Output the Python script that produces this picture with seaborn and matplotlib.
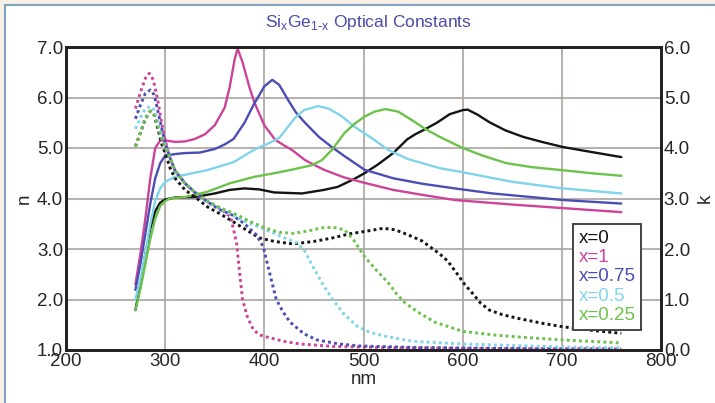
import matplotlib
matplotlib.use("Agg")
import matplotlib.pyplot as plt
from matplotlib.lines import Line2D
from matplotlib.patches import Rectangle
import seaborn as sns

# n (solid, left axis) -- wavelength in nm
si_n_nm = [270, 275, 280, 285, 290, 295, 300, 310, 320, 330, 340, 350, 360, 365, 370, 373, 378, 385, 390, 400, 411, 420, 428, 441, 460, 480, 501, 530, 560, 592, 650, 701, 760]
si_n = [2.3, 2.9, 3.6, 4.4, 5.0, 5.15, 5.15, 5.12, 5.13, 5.18, 5.27, 5.45, 5.8, 6.2, 6.75, 6.97, 6.7, 6.2, 5.9, 5.45, 5.16, 5.05, 4.96, 4.76, 4.57, 4.42, 4.31, 4.17, 4.07, 3.97, 3.88, 3.81, 3.73]

x75_n_nm = [270, 275, 280, 285, 290, 295, 300, 310, 320, 335, 350, 360, 369, 380, 389, 400, 408, 415, 424, 432, 441, 455, 468, 480, 501, 530, 560, 592, 630, 701, 760]
x75_n = [2.19, 2.7, 3.3, 3.9, 4.4, 4.7, 4.85, 4.88, 4.9, 4.91, 4.98, 5.07, 5.18, 5.5, 5.85, 6.22, 6.35, 6.25, 5.95, 5.7, 5.5, 5.22, 5.02, 4.85, 4.57, 4.4, 4.29, 4.2, 4.1, 3.97, 3.9]

x50_n_nm = [270, 275, 280, 285, 290, 295, 300, 310, 320, 342, 369, 391, 403, 415, 425, 431, 440, 454, 465, 478, 491, 508, 525, 545, 577, 600, 650, 701, 760]
x50_n = [2.0, 2.4, 2.9, 3.5, 3.95, 4.2, 4.33, 4.43, 4.47, 4.56, 4.72, 4.98, 5.08, 5.2, 5.45, 5.6, 5.75, 5.83, 5.78, 5.63, 5.42, 5.2, 4.96, 4.78, 4.6, 4.52, 4.33, 4.2, 4.1]

x25_n_nm = [270, 275, 280, 285, 290, 295, 300, 305, 320, 342, 365, 390, 410, 430, 448, 458, 468, 481, 491, 501, 511, 522, 535, 549, 562, 577, 600, 620, 644, 670, 701, 730, 760]
x25_n = [1.79, 2.2, 2.7, 3.2, 3.6, 3.85, 3.95, 4.0, 4.03, 4.13, 4.3, 4.43, 4.5, 4.58, 4.66, 4.76, 4.96, 5.3, 5.48, 5.62, 5.72, 5.77, 5.72, 5.55, 5.38, 5.22, 5.0, 4.85, 4.7, 4.62, 4.56, 4.5, 4.45]

ge_n_nm = [270, 275, 280, 285, 290, 295, 300, 310, 330, 350, 365, 380, 395, 410, 438, 460, 474, 490, 501, 515, 530, 544, 552, 560, 574, 587, 600, 605, 615, 627, 643, 661, 680, 701, 730, 760]
ge_n = [1.79, 2.3, 2.9, 3.4, 3.75, 3.92, 3.98, 4.02, 4.03, 4.1, 4.17, 4.2, 4.18, 4.12, 4.1, 4.17, 4.23, 4.38, 4.5, 4.68, 4.9, 5.17, 5.27, 5.35, 5.5, 5.67, 5.75, 5.76, 5.66, 5.51, 5.35, 5.22, 5.12, 5.02, 4.92, 4.82]

# k (dotted, right axis)
si_k_nm = [270, 275, 280, 284, 288, 292, 296, 300, 305, 310, 320, 330, 343, 355, 366, 372, 375, 378, 383, 389, 395, 402, 420, 436, 470, 520, 600, 760]
si_k = [4.78, 5.1, 5.38, 5.48, 5.35, 5.0, 4.55, 4.15, 3.8, 3.55, 3.3, 3.12, 2.93, 2.8, 2.64, 2.12, 1.55, 1.0, 0.65, 0.4, 0.3, 0.26, 0.17, 0.12, 0.07, 0.05, 0.03, 0.02]

x75_k_nm = [270, 275, 280, 285, 289, 293, 297, 300, 305, 310, 320, 330, 343, 355, 367, 380, 392, 399, 405, 412, 419, 426, 440, 453, 475, 496, 550, 650, 760]
x75_k = [4.58, 4.85, 5.08, 5.15, 5.05, 4.7, 4.35, 4.1, 3.8, 3.55, 3.3, 3.12, 2.93, 2.78, 2.68, 2.5, 2.28, 2.04, 1.55, 1.0, 0.75, 0.55, 0.32, 0.2, 0.12, 0.08, 0.05, 0.03, 0.02]

x50_k_nm = [270, 275, 280, 285, 289, 293, 297, 300, 305, 310, 320, 330, 343, 355, 367, 380, 402, 420, 433, 441, 449, 459, 469, 480, 493, 505, 520, 550, 600, 650, 700, 760]
x50_k = [4.38, 4.6, 4.78, 4.82, 4.75, 4.5, 4.2, 4.05, 3.8, 3.55, 3.3, 3.12, 2.93, 2.8, 2.68, 2.55, 2.38, 2.22, 2.12, 1.95, 1.65, 1.3, 1.0, 0.72, 0.48, 0.36, 0.28, 0.17, 0.12, 0.09, 0.06, 0.04]

x25_k_nm = [270, 275, 280, 285, 289, 293, 297, 300, 305, 310, 320, 330, 343, 355, 369, 385, 402, 415, 429, 445, 458, 469, 481, 490, 501, 512, 525, 533, 542, 555, 572, 600, 630, 655, 700, 760]
x25_k = [4.03, 4.3, 4.58, 4.73, 4.65, 4.4, 4.15, 4.0, 3.8, 3.55, 3.3, 3.12, 2.95, 2.82, 2.71, 2.55, 2.41, 2.33, 2.31, 2.36, 2.42, 2.43, 2.38, 2.18, 1.85, 1.6, 1.33, 1.12, 0.93, 0.75, 0.55, 0.37, 0.3, 0.26, 0.2, 0.14]

ge_k_nm = [270, 275, 280, 285, 289, 293, 297, 300, 305, 310, 320, 332, 343, 355, 366, 380, 395, 410, 429, 450, 469, 486, 505, 520, 532, 545, 559, 577, 585, 594, 602, 610, 618, 627, 640, 655, 680, 701, 730, 760]
ge_k = [4.03, 4.3, 4.58, 4.73, 4.65, 4.35, 4.05, 3.9, 3.6, 3.4, 3.17, 3.0, 2.83, 2.7, 2.57, 2.4, 2.22, 2.15, 2.1, 2.15, 2.22, 2.3, 2.36, 2.41, 2.38, 2.28, 2.16, 1.9, 1.76, 1.52, 1.3, 1.12, 0.93, 0.79, 0.7, 0.63, 0.53, 0.46, 0.39, 0.33]

labels = ['x=0', 'x=1', 'x=0.75', 'x=0.5', 'x=0.25']
colors = ['#141414', '#cc4499', '#4a4db3', '#80d4ea', '#6cc24a']

n_series = [(ge_n_nm, ge_n), (si_n_nm, si_n), (x75_n_nm, x75_n), (x50_n_nm, x50_n), (x25_n_nm, x25_n)]
k_series = [(ge_k_nm, ge_k), (si_k_nm, si_k), (x75_k_nm, x75_k), (x50_k_nm, x50_k), (x25_k_nm, x25_k)]

sns.set_theme(style='white')
plt.rcParams['font.family'] = ['Liberation Sans', 'DejaVu Sans']

fig = plt.figure(figsize=(7.15, 4.03), dpi=100)
fig.patch.set_facecolor('#f6f0e5')
# white panel with blue edge, behind everything
panel = Rectangle((5 / 715, -0.1), 1.2, 1 - 5 / 403 + 0.1, transform=fig.transFigure,
                  facecolor='white', edgecolor='#7fa5c0', lw=1.5, zorder=-10)
fig.add_artist(panel)

ax = fig.add_axes([66 / 715, 1 - 350 / 403, 595 / 715, 303 / 403])
ax.set_facecolor('white')
ax2 = ax.twinx()

for (xs, ys), c in zip(n_series, colors):
    sns.lineplot(x=xs, y=ys, ax=ax, color=c, lw=1.7, sort=False, solid_joinstyle='round')
for (xs, ys), c in zip(k_series, colors):
    sns.lineplot(x=xs, y=ys, ax=ax2, color=c, lw=2.1, sort=False, linestyle=(0, (1, 1.1)))

ax.set_xlim(200, 800)
ax.set_ylim(1, 7)
ax2.set_ylim(0, 6)
ax.set_xticks(range(200, 801, 100))
ax.set_yticks([1, 2, 3, 4, 5, 6, 7])
ax2.set_yticks([0, 1, 2, 3, 4, 5, 6])
ax.set_yticklabels([f'{v:.1f}' for v in range(1, 8)])
ax2.set_yticklabels([f'{v:.1f}' for v in range(0, 7)])
ax.grid(True, color='#aaa4a2', lw=1.2)
ax.set_axisbelow(True)

for a in (ax, ax2):
    a.tick_params(length=0, labelsize=13.5, colors='#262626', pad=2)
    for s in a.spines.values():
        s.set_color('#222222')
        s.set_linewidth(2)
        s.set_visible(True)

ax.set_xlabel('nm', fontsize=13.5, color='#262626', labelpad=1)
ax.set_ylabel('n', fontsize=13.5, color='#262626', labelpad=3)
ax2.set_ylabel('k', fontsize=13.5, color='#262626', rotation=90, labelpad=5)

fig.text(0.515, 0.945, 'Si$_\\mathregular{x}$Ge$_\\mathregular{1\\text{-}x}$ Optical Constants',
         ha='center', va='center', fontsize=12.5, color='#4b4ba8')

handles = [Line2D([], [], lw=0) for _ in labels]
leg = ax2.legend(handles, labels, loc='upper left', bbox_to_anchor=(0.852, 0.416), borderaxespad=0,
                 handlelength=0, handletextpad=0, fontsize=13.5, labelspacing=0.12,
                 fancybox=False, framealpha=1, edgecolor='#444444', borderpad=0.3)
leg.get_frame().set_linewidth(1.4)
for t, c in zip(leg.get_texts(), colors):
    t.set_color(c)

plt.savefig('out.png', dpi=100, facecolor=fig.get_facecolor())
